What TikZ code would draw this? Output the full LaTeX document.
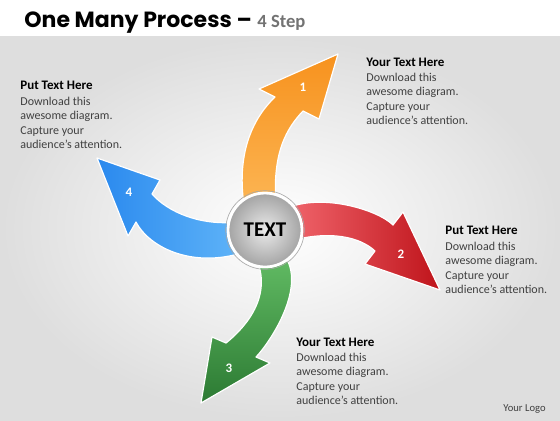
\documentclass[tikz,border=0pt]{standalone}
\usepackage{fontspec}
\setmainfont{Carlito}
\newfontfamily\titlefont{Poppins}
\definecolor{orangeA}{HTML}{F7921E}
\definecolor{orangeB}{HTML}{FCB553}
\definecolor{redA}{HTML}{F0646B}
\definecolor{redB}{HTML}{BF141B}
\definecolor{greenA}{HTML}{62BC64}
\definecolor{greenB}{HTML}{2C7A33}
\definecolor{blueA}{HTML}{2A89EE}
\definecolor{blueB}{HTML}{5EB3F8}
\definecolor{bodygray}{HTML}{404040}

\begin{document}
\begin{tikzpicture}[x=0.5pt, y=-0.5pt]
        \tikzset{heading/.style={anchor=base west, inner sep=0pt, font=\fontsize{6.5}{7}\selectfont\bfseries},
                 body/.style={anchor=north west, inner sep=0pt, align=left, text=bodygray, font=\fontsize{6}{7.1}\selectfont},
                 num/.style={inner sep=0pt, text=white, font=\fontsize{6.5}{7}\selectfont\bfseries},
                 rim/.style={draw=white, line width=0.6pt, line join=round},
                 hub/.style={circle, draw=white, line width=1.4pt, minimum size=37pt, inner sep=0pt,
                             inner color=black!8, outer color=black!36, font=\fontsize{10.5}{12}\selectfont\bfseries}}
        \useasboundingbox (0,0) rectangle (560,420);
        \fill[white] (0,0) rectangle (560,36);
        \shade[inner color=white, outer color=black!13] (0,36) rectangle (560,420);
        \node [anchor=base west, inner sep=0pt] (title) at (24,27)
            {\titlefont\fontsize{11}{12}\selectfont\bfseries One Many Process –};
        \node [anchor=base west, inner sep=0pt, text=black!55, font=\fontsize{9.3}{11}\selectfont\bfseries] (step) at (257,27) {4 Step};
        \path [rim, top color=orangeA, bottom color=orangeB]
            (244,205) .. controls (236,150) and (255,116) .. (275,97) -- (259,89) -- (338,54) -- (319,119) -- (303,111)
            .. controls (287,128) and (272,152) .. (276,205) -- cycle;
        \path [rim, left color=redA, right color=redB]
            (290,207) .. controls (325,194) and (378,210) .. (393,225) -- (403,212) -- (440,290) -- (365,264) -- (375,251)
            .. controls (360,237) and (330,230) .. (290,241) -- cycle;
        \path [rim, top color=greenA, bottom color=greenB]
            (284,255) .. controls (307,285) and (272,340) .. (256,357) -- (270,363) -- (201,403) -- (212,337) -- (226,343)
            .. controls (241,331) and (273,300) .. (257,260) -- cycle;
        \path [rim, left color=blueA, right color=blueB]
            (238,222) .. controls (200,226) and (168,212) .. (152,194) -- (160,180) -- (97,158) -- (128,236) -- (136,222)
            .. controls (149,247) and (190,267) .. (238,254) -- cycle;
        \node [num] (n1) at (303,87) {1};
        \node [num] (n2) at (401,254) {2};
        \node [num] (n3) at (229,368) {3};
        \node [num] (n4) at (129,192) {4};
        \node [hub] (hub) at (265,230) {TEXT};
        \draw [black!35, line width=0.3pt] (hub.center) circle (39.3);
        \node [heading] (h1) at (366,66) {Your Text Here};
        \node [body]    (b1) at (366,73) {Download this\\awesome diagram.\\Capture your\\audience’s attention.};
        \node [heading] (h2) at (445,234) {Put Text Here};
        \node [body]    (b2) at (445,242) {Download this\\awesome diagram.\\Capture your\\audience’s attention.};
        \node [heading] (h3) at (296,346) {Your Text Here};
        \node [body]    (b3) at (296,353) {Download this\\awesome diagram.\\Capture your\\audience’s attention.};
        \node [heading] (h4) at (20,89) {Put Text Here};
        \node [body]    (b4) at (20,97) {Download this\\awesome diagram.\\Capture your\\audience’s attention.};
        \node [anchor=base east, inner sep=0pt, text=bodygray, font=\fontsize{5.3}{6}\selectfont] (logo) at (546,411) {Your Logo};
    \end{tikzpicture}
\end{document}
